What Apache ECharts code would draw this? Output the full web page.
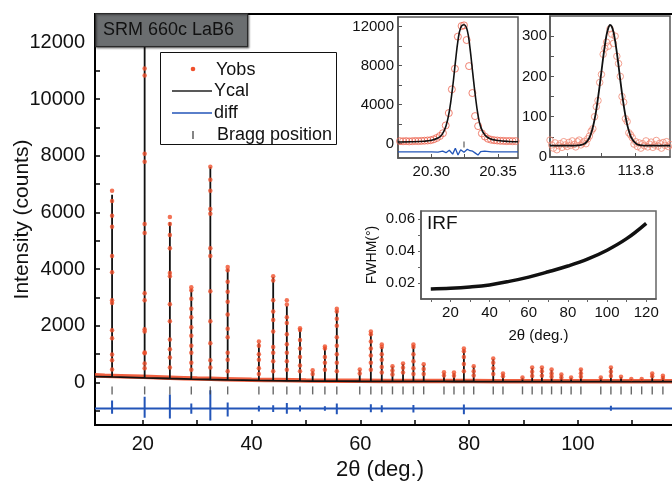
<!DOCTYPE html>
<html><head><meta charset="utf-8">
<script src="https://cdn.jsdelivr.net/npm/echarts@6/dist/echarts.min.js"></script>
<style>html,body{margin:0;padding:0;background:#fff}#c{width:672px;height:481px}</style>
</head><body><div id="c"></div>
<script>
// ---------- main pattern data ----------
const braggPos = [14.34, 20.33, 24.97, 28.91, 32.41, 35.60, 41.34, 43.97, 46.48, 48.90, 51.23, 53.48, 55.67, 59.89, 61.93, 63.94, 65.91, 67.85, 69.76, 71.65, 75.38, 77.22, 79.04, 80.85, 84.44, 86.23, 89.82, 91.60, 93.39, 95.17, 96.97, 98.76, 100.56, 104.22, 106.08, 107.94, 109.83, 111.74, 113.68, 115.64];
const calTop = [6620, 12200, 5650, 3300, 7600, 4000, 1380, 3720, 2700, 1880, 400, 1250, 2560, 440, 1780, 1250, 560, 650, 1320, 620, 340, 330, 1180, 560, 830, 310, 170, 510, 510, 440, 270, 170, 450, 170, 510, 190, 120, 120, 310, 230];
const calBase = [195,165,140,120,105,92,72,64,58,54,50,48,46,43,42,41,40,39,38,37,36,35,35,34,33,33,32,32,31,31,31,30,30,30,30,29,29,29,28,28];
const calStart = [11.2, 210];
const calEnd = [121.5, 28];
const obsDots = [
  [6760, 6400, 5880, 5490, 4460, 3890, 2900, 2800, 1840, 1560, 990, 780, 460],
  [11080, 10830, 8070, 7790, 5590, 5270, 3150, 2900, 1880, 1800, 1060, 1030, 670, 500],
  [5840, 5590, 5200, 4740, 3860, 3750, 2760, 2160, 1520, 1170, 880, 530],
  [3360, 3250, 2950, 2600, 2300, 1950, 1650, 1300, 1050, 700, 450],
  [7610, 7150, 6760, 6120, 5950, 4740, 4460, 3220, 2160, 1380, 780, 530],
  [4070, 3960, 3550, 3200, 2850, 2400, 1900, 1600, 1050, 800, 400],
  [1450, 1300, 1000, 800, 500, 300],
  [3750, 3600, 2900, 2500, 2200, 1800, 1250, 1050, 750, 400],
  [2900, 2750, 2300, 2100, 1700, 1350, 1050, 750, 450],
  [1910, 1850, 1500, 1200, 900, 600, 400],
  [430, 300],
  [1270, 1200, 900, 700, 450],
  [2600, 2500, 2250, 2000, 1600, 1300, 1000, 700, 400],
  [460, 320],
  [1800, 1700, 1450, 1200, 950, 700, 450],
  [1340, 1250, 1000, 800, 550, 350],
  [570, 420, 280],
  [670, 520, 350],
  [1340, 1250, 1000, 750, 500, 300],
  [640, 480, 300],
  [360, 250],
  [350, 240],
  [1200, 1100, 900, 650, 400],
  [570, 400, 250],
  [850, 700, 500, 300],
  [320, 220],
  [180],
  [530, 380, 230],
  [530, 400, 240],
  [460, 320, 200],
  [280, 180],
  [180],
  [460, 330, 200],
  [180],
  [530, 380, 230],
  [200],
  [120],
  [120],
  [320, 220],
  [240, 160]
];
const obsBgX = [11.2, 13, 16, 20, 25, 30, 35, 40, 45, 50, 60, 70, 80, 90, 100, 110, 121.5];
const obsBgY = [255, 240, 222, 198, 168, 140, 118, 98, 85, 72, 60, 52, 48, 45, 42, 40, 40];
const diffZero = -920;
const diffUp = [280,420,500,180,650,210,100,120,200,110,50,80,180,50,150,120,60,60,130,60,50,50,140,60,70,40,40,50,50,50,40,40,50,40,100,40,40,40,40,40];
const diffDown = [180,320,350,180,420,280,100,120,180,100,50,80,200,50,130,130,60,60,140,60,50,50,200,60,70,40,40,50,50,50,40,40,50,40,80,40,40,40,40,40];
const braggY = -280;
const mainXLabels = [20, 40, 60, 80, 100];
const mainXTicks = [20, 30, 40, 50, 60, 70, 80, 90, 100, 110, 120];
const mainYLabels = [0, 2000, 4000, 6000, 8000, 10000, 12000];
const mainYTicks = [-1000, 0, 1000, 2000, 3000, 4000, 5000, 6000, 7000, 8000, 9000, 10000, 11000, 12000];

// ---------- inset 1 : (110) peak ----------
const in1ObsX = [20.2765, 20.2788, 20.2811, 20.2834, 20.2857, 20.2880, 20.2903, 20.2926, 20.2949, 20.2972, 20.2995, 20.3018, 20.3041, 20.3064, 20.3087, 20.3108, 20.3131, 20.3154, 20.3177, 20.3199, 20.3227, 20.3245, 20.3265, 20.3283, 20.3308, 20.3328, 20.3351, 20.3379, 20.3402, 20.3425, 20.3448, 20.3471, 20.3494, 20.3517, 20.3540, 20.3563, 20.3586, 20.3609, 20.3632, 20.3655];
const in1ObsY = [230, 220, 240, 210, 230, 250, 240, 260, 280, 300, 330, 420, 560, 760, 1050, 1850, 3120, 5560, 7680, 10980, 12070, 12140, 10630, 7950, 5180, 2810, 1780, 1030, 700, 480, 380, 330, 300, 270, 260, 240, 250, 230, 240, 220];
const in1CalX = [20.275, 20.285, 20.295, 20.300, 20.305, 20.308, 20.311, 20.3135, 20.316, 20.318, 20.320, 20.322, 20.3245, 20.327, 20.329, 20.331, 20.333, 20.335, 20.337, 20.340, 20.344, 20.350, 20.358, 20.365];
const in1CalY = [150, 170, 230, 320, 550, 900, 1800, 3300, 5800, 8300, 10600, 11900, 12200, 11600, 9800, 7300, 4900, 2900, 1700, 900, 480, 300, 200, 170];
const in1DiffX = [20.275, 20.300, 20.305, 20.3085, 20.311, 20.3135, 20.316, 20.318, 20.320, 20.322, 20.3245, 20.327, 20.329, 20.331, 20.333, 20.335, 20.337, 20.340, 20.345, 20.365];
const in1DiffY = [-860, -860, -900, -800, -950, -700, -1100, -500, -1200, -650, -900, -600, -750, -800, -1000, -1200, -850, -800, -860, -860];
const in1Bragg = [[20.3245, -100]];

// ---------- inset 2 : high-angle peak ----------
const in2X = [113.550,113.555,113.560,113.565,113.570,113.575,113.580,113.585,113.590,113.595,113.600,113.605,113.610,113.615,113.620,113.625,113.630,113.635,113.640,113.645,113.650,113.655,113.660,113.665,113.670,113.675,113.680,113.685,113.690,113.695,113.700,113.705,113.710,113.715,113.720,113.725,113.730,113.735,113.740,113.745,113.750,113.755,113.760,113.765,113.770,113.775,113.780,113.785,113.790,113.795,113.800,113.805,113.810,113.815,113.820,113.825,113.830,113.835,113.840,113.845,113.850,113.855,113.860,113.865,113.870,113.875,113.880,113.885,113.890,113.895,113.900];
const in2Obs = [42,30,22,35,18,28,33,24,38,30,26,36,29,40,31,25,38,42,30,35,39,33,45,52,64,70,100,125,140,185,205,255,270,285,275,318,305,282,300,250,232,200,150,136,95,88,60,55,48,32,38,26,35,22,33,28,40,25,32,37,24,30,41,27,34,22,36,29,38,26,31];
const in2Cal = [28,28,28,28,28,28,28,28,28,28,28,28,28,28,28,28,29,29,30,31,33,36,41,48,59,74,93,117,146,178,212,246,277,303,320,328,324,311,288,259,226,191,158,128,102,81,65,52,44,38,34,31,30,29,29,28,28,28,28,28,28,28,28,28,28,28,28,28,28,28,28];

// ---------- inset 3 : IRF ----------
const irfX = [10, 20, 30, 40, 50, 60, 70, 80, 90, 100, 110, 120];
const irfY = [0.0163, 0.0167, 0.0175, 0.0188, 0.0210, 0.0237, 0.0270, 0.0306, 0.0349, 0.0405, 0.0477, 0.0573];

// ---------- build series data ----------
const zip = (a, b) => a.map((v, i) => [v, b[i]]);
const calData = [calStart];
braggPos.forEach((p, i) => { calData.push([p, calBase[i]], [p, calTop[i]], [p, calBase[i]]); });
calData.push(calEnd);
const obsData = [];
braggPos.forEach((p, i) => obsDots[i].forEach(v => obsData.push([p, v])));
const diffData = [[calStart[0], diffZero]];
braggPos.forEach((p, i) => { diffData.push([p, diffZero], [p, diffZero + diffUp[i]], [p, diffZero - diffDown[i]], [p, diffZero]); });
diffData.push([calEnd[0], diffZero]);
const braggData = braggPos.map(p => [p, braggY]);

const FONT = 'Liberation Sans, Arial, Helvetica, sans-serif';
const RED = '#f0502c';
const BLUE = '#2355b8';
const plain = v => String(v);

function axisCommon(o) {
  return Object.assign({
    type: 'value', splitLine: { show: false }, nameMoveOverlap: false,
    axisLine: { onZero: false, lineStyle: { color: '#555', width: 1.5 } },
    axisTick: { inside: true, length: 4, lineStyle: { color: '#555', width: 1 } },
    axisLabel: { color: '#111', fontSize: 15, fontFamily: FONT, margin: 4 }
  }, o);
}
const gridBase = { show: true, containLabel: false, outerBoundsMode: 'none' };

const chart = echarts.init(document.getElementById('c'), null, { renderer: 'canvas' });
chart.setOption({
  animation: false,
  backgroundColor: '#fff',
  textStyle: { fontFamily: FONT },
  grid: [
    Object.assign({ left: 95, top: 14, width: 600, height: 411, borderColor: '#000', borderWidth: 2, backgroundColor: 'rgba(0,0,0,0)' }, gridBase),
    Object.assign({ left: 398, top: 17, width: 120, height: 141, borderColor: '#555', borderWidth: 1.5, backgroundColor: '#fff' }, gridBase),
    Object.assign({ left: 550, top: 16, width: 120, height: 141, borderColor: '#555', borderWidth: 1.5, backgroundColor: '#fff' }, gridBase),
    Object.assign({ left: 421, top: 211, width: 235, height: 88, borderColor: '#666', borderWidth: 1.5, backgroundColor: '#fff' }, gridBase)
  ],
  xAxis: [
    {
      type: 'value', gridIndex: 0, min: 11.2, max: 121.545, splitLine: { show: false },
      axisLine: { onZero: false, lineStyle: { color: '#000', width: 2 } },
      axisTick: { inside: true, length: 5, customValues: mainXTicks, lineStyle: { color: '#000', width: 1.5 } },
      axisLabel: { customValues: mainXLabels, formatter: plain, color: '#111', fontSize: 20, fontFamily: FONT, margin: 9 }
    },
    axisCommon({ gridIndex: 1, min: 20.275, max: 20.365,
      axisTick: { inside: true, length: 4, customValues: [20.30, 20.325, 20.35], lineStyle: { color: '#555' } },
      axisLabel: { customValues: [20.30, 20.35], formatter: v => v.toFixed(2), color: '#111', fontSize: 15, fontFamily: FONT, margin: 6 } }),
    axisCommon({ gridIndex: 2, min: 113.55, max: 113.90,
      axisTick: { inside: true, length: 4, customValues: [113.6, 113.7, 113.8], lineStyle: { color: '#555' } },
      axisLabel: { customValues: [113.6, 113.8], formatter: v => v.toFixed(1), color: '#111', fontSize: 15, fontFamily: FONT, margin: 6 } }),
    axisCommon({ gridIndex: 3, min: 5, max: 125,
      axisTick: { inside: false, length: 3, customValues: [10, 20, 30, 40, 50, 60, 70, 80, 90, 100, 110, 120], lineStyle: { color: '#666' } },
      axisLabel: { customValues: [20, 40, 60, 80, 100, 120], formatter: plain, color: '#111', fontSize: 15, fontFamily: FONT, margin: 6 },
      name: '2θ (deg.)', nameLocation: 'middle', nameGap: 29, nameTextStyle: { color: '#111', fontSize: 15, fontFamily: FONT } })
  ],
  yAxis: [
    {
      type: 'value', gridIndex: 0, min: -1500, max: 13000, splitLine: { show: false },
      axisLine: { onZero: false, lineStyle: { color: '#000', width: 2 } },
      axisTick: { inside: true, length: 5, customValues: mainYTicks, lineStyle: { color: '#000', width: 1.5 } },
      axisLabel: { customValues: mainYLabels, formatter: plain, color: '#111', fontSize: 20, fontFamily: FONT, margin: 10 },
      name: 'Intensity (counts)', nameLocation: 'middle', nameGap: 62, nameMoveOverlap: false,
      nameTextStyle: { color: '#111', fontSize: 21, fontFamily: FONT }
    },
    axisCommon({ gridIndex: 1, min: -1500, max: 13000,
      axisTick: { inside: true, length: 4, customValues: [0, 2000, 4000, 6000, 8000, 10000, 12000], lineStyle: { color: '#555' } },
      axisLabel: { customValues: [0, 4000, 8000, 12000], formatter: plain, color: '#111', fontSize: 15, fontFamily: FONT, margin: 4 } }),
    axisCommon({ gridIndex: 2, min: 0, max: 350,
      axisTick: { inside: true, length: 4, customValues: [50, 100, 150, 200, 250, 300], lineStyle: { color: '#555' } },
      axisLabel: { customValues: [0, 100, 200, 300], formatter: plain, color: '#111', fontSize: 15, fontFamily: FONT, margin: 3 } }),
    axisCommon({ gridIndex: 3, min: 0.01, max: 0.065,
      axisTick: { inside: false, length: 3, customValues: [0.02, 0.03, 0.04, 0.05, 0.06], lineStyle: { color: '#666' } },
      axisLabel: { customValues: [0.02, 0.04, 0.06], formatter: v => v.toFixed(2), color: '#111', fontSize: 15, fontFamily: FONT, margin: 6 },
      name: 'FWHM(°)', nameLocation: 'middle', nameGap: 42, nameTextStyle: { color: '#111', fontSize: 14, fontFamily: FONT } })
  ],
  series: [
    { name: 'YobsBg', type: 'line', xAxisIndex: 0, yAxisIndex: 0, data: zip(obsBgX, obsBgY), symbol: 'none', smooth: true,
      lineStyle: { color: RED, width: 4.5, opacity: 0.9 }, z: 1, silent: true },
    { name: 'Ycal', type: 'line', xAxisIndex: 0, yAxisIndex: 0, data: calData, symbol: 'none',
      lineStyle: { color: '#111', width: 1.8 }, z: 2, silent: true },
    { name: 'diff', type: 'line', xAxisIndex: 0, yAxisIndex: 0, data: diffData, symbol: 'none',
      lineStyle: { color: BLUE, width: 2 }, z: 2, silent: true },
    { name: 'Bragg position', type: 'scatter', xAxisIndex: 0, yAxisIndex: 0, data: braggData, symbol: 'rect', symbolSize: [1.4, 8],
      itemStyle: { color: '#444' }, z: 2, silent: true },
    { name: 'Yobs', type: 'scatter', xAxisIndex: 0, yAxisIndex: 0, data: obsData, symbol: 'circle', symbolSize: 4.5,
      itemStyle: { color: RED }, z: 3, silent: true },

    { type: 'line', xAxisIndex: 1, yAxisIndex: 1, data: zip(in1DiffX, in1DiffY), symbol: 'none',
      lineStyle: { color: BLUE, width: 1.3 }, z: 6, silent: true },
    { type: 'scatter', xAxisIndex: 1, yAxisIndex: 1, data: in1Bragg, symbol: 'rect', symbolSize: [1.2, 6],
      itemStyle: { color: '#333' }, z: 6, silent: true },
    { type: 'scatter', xAxisIndex: 1, yAxisIndex: 1, data: zip(in1ObsX, in1ObsY), symbol: 'circle', symbolSize: 7,
      itemStyle: { color: 'rgba(0,0,0,0)', borderColor: '#ec6450', borderWidth: 1 }, z: 6, silent: true },
    { type: 'line', xAxisIndex: 1, yAxisIndex: 1, data: zip(in1CalX, in1CalY), symbol: 'none', smooth: 0.4,
      lineStyle: { color: '#111', width: 1.6 }, z: 7, silent: true },

    { type: 'scatter', xAxisIndex: 2, yAxisIndex: 2, data: zip(in2X, in2Obs), symbol: 'circle', symbolSize: 6.5,
      itemStyle: { color: 'rgba(0,0,0,0)', borderColor: '#f08a76', borderWidth: 1 }, z: 6, silent: true },
    { type: 'line', xAxisIndex: 2, yAxisIndex: 2, data: zip(in2X, in2Cal), symbol: 'none', smooth: 0.3,
      lineStyle: { color: '#111', width: 1.8 }, z: 7, silent: true },

    { type: 'line', xAxisIndex: 3, yAxisIndex: 3, data: zip(irfX, irfY), symbol: 'none', smooth: 0.4,
      lineStyle: { color: '#111', width: 3.5 }, z: 6, silent: true }
  ],
  graphic: [
    { type: 'rect', left: 95, top: 13, shape: { width: 152, height: 33 }, z: 100,
      style: { fill: '#6b6e70', stroke: '#2a2a2a', lineWidth: 1.2, shadowBlur: 2, shadowColor: 'rgba(0,0,0,0.4)', shadowOffsetX: 1, shadowOffsetY: 1 } },
    { type: 'text', x: 103, y: 30, z: 101, style: { text: 'SRM 660c LaB6', font: '18px ' + FONT, fill: '#111', verticalAlign: 'middle', align: 'left' } },

    { type: 'rect', shape: { x: 160.5, y: 52.5, width: 176, height: 92 }, z: 100, style: { fill: '#fff', stroke: '#111', lineWidth: 1 } },
    { type: 'circle', shape: { cx: 193, cy: 69, r: 2.3 }, z: 101, style: { fill: RED } },
    { type: 'text', x: 216, y: 70, z: 101, style: { text: 'Yobs', font: '18px ' + FONT, fill: '#111', verticalAlign: 'middle' } },
    { type: 'line', shape: { x1: 172, y1: 91, x2: 212, y2: 91 }, z: 101, style: { stroke: '#222', lineWidth: 1.5 } },
    { type: 'text', x: 214, y: 91, z: 101, style: { text: 'Ycal', font: '18px ' + FONT, fill: '#111', verticalAlign: 'middle' } },
    { type: 'line', shape: { x1: 172, y1: 113, x2: 212, y2: 113 }, z: 101, style: { stroke: BLUE, lineWidth: 1.5 } },
    { type: 'text', x: 214, y: 113, z: 101, style: { text: 'diff', font: '18px ' + FONT, fill: '#111', verticalAlign: 'middle' } },
    { type: 'line', shape: { x1: 193, y1: 131, x2: 193, y2: 139 }, z: 101, style: { stroke: '#333', lineWidth: 1.2 } },
    { type: 'text', x: 217, y: 135, z: 101, style: { text: 'Bragg position', font: '18px ' + FONT, fill: '#111', verticalAlign: 'middle' } },

    { type: 'text', x: 427, y: 224, z: 101, style: { text: 'IRF', font: '19px ' + FONT, fill: '#111', verticalAlign: 'middle' } },
    { type: 'text', x: 380, y: 470, z: 101, style: { text: '2θ (deg.)', font: '22px ' + FONT, fill: '#111', align: 'center', verticalAlign: 'middle' } }
  ]
});
</script></body></html>
